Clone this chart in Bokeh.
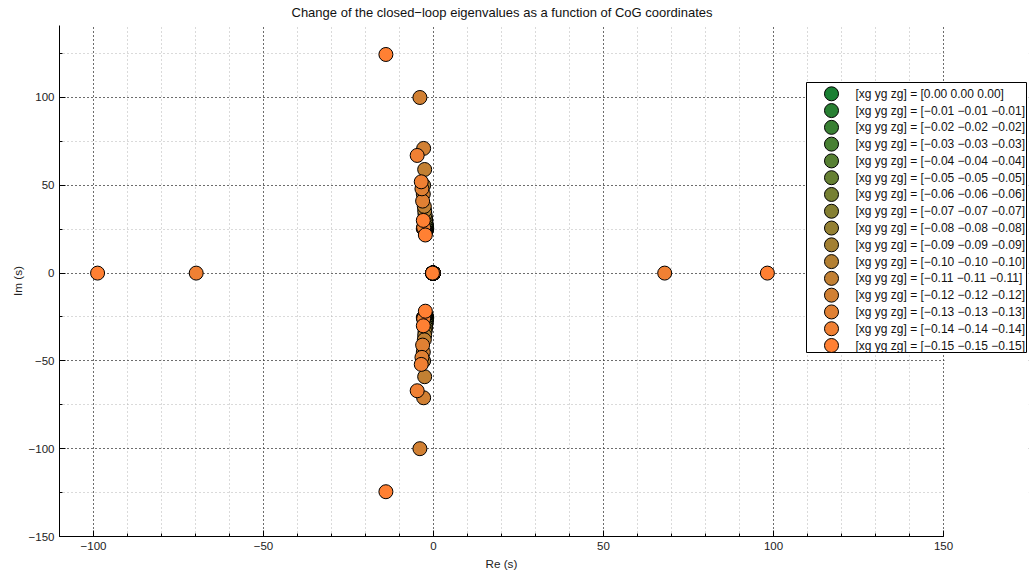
from bokeh.plotting import figure
from bokeh.models import Range1d, SingleIntervalTicker, CustomJSTickFormatter, Title
from bokeh.core.properties import value
from bokeh.embed import file_html
from bokeh.resources import INLINE

# CoG offsets (xg = yg = zg) of each configuration
offsets = [0.00, -0.01, -0.02, -0.03, -0.04, -0.05, -0.06, -0.07,
           -0.08, -0.09, -0.10, -0.11, -0.12, -0.13, -0.14, -0.15]

colors = ["#1a8033", "#298033", "#398033", "#488033", "#578033", "#668033",
          "#768033", "#858033", "#948033", "#a38033", "#b38033", "#c28033",
          "#d18033", "#e08033", "#f08033", "#ff8033"]

# complex eigenvalues (upper half plane; conjugates are mirrored)
cplx_re = [
    [-2.2, -2.0], [-2.2, -2.0], [-2.3, -2.1], [-2.3, -2.1],
    [-2.4, -2.2], [-2.4, -2.2], [-2.5, -2.3], [-2.5, -2.3],
    [-2.6, -2.4], [-2.6, -2.5], [-2.7, -2.6, -2.9], [-2.8, -2.7, -2.6],
    [-2.9, -3.0, -2.9, -4.0], [-3.0, -3.2, -3.4], [-2.9, -3.6, -4.8],
    [-2.4, -3.0, -14.0],
]
cplx_im = [
    [24.0, 25.0], [24.1, 25.6], [24.2, 26.3], [24.3, 27.0],
    [24.4, 27.8], [24.5, 28.7], [24.6, 29.7], [24.7, 30.8],
    [24.8, 32.0], [24.9, 33.5], [25.0, 35.5, 50.0], [25.0, 38.0, 59.0],
    [25.2, 45.0, 71.0, 100.0], [25.5, 41.0, 48.0], [26.0, 52.0, 67.0],
    [21.7, 30.0, 124.5],
]
# real eigenvalues
real_eigs = [
    [0.0, -0.3], [0.0, -0.3], [0.0, -0.3], [0.0, -0.3],
    [0.0, -0.3], [0.0, -0.3], [0.0, -0.3], [0.0, -0.3],
    [0.0, -0.3], [0.0, -0.3], [0.0, -0.3], [0.0, -0.3],
    [0.0, -0.3], [0.0, -0.3], [0.0, -0.3, -69.8, 68.0],
    [0.0, -0.3, -98.8, 98.2],
]

MINUS = "\u2212"


def fmt(v):
    return f"{v:.2f}".replace("-", MINUS)


labels = [f"[xg yg zg] = [{fmt(o)} {fmt(o)} {fmt(o)}]" for o in offsets]

# ---- layout (pixels) ----
W, H = 1030, 573
FL, FR, FT, FB = 59, 1028, 25, 536          # frame edges
AX_R = 943                                   # pixel where the drawn axes end
X0, X_AX_END = -110.0, 150.0
PX_PER_X = (AX_R - FL) / (X_AX_END - X0)
Y0, Y1 = -150.0, 141.0
x_end = X0 + (FR - FL) / PX_PER_X
py_per_y = (FB - FT) / (Y1 - Y0)


def dx(px):
    return X0 + (px - FL) / PX_PER_X


def dy(py):
    return Y1 - (py - FT) / py_per_y


p = figure(width=W, height=H,
           x_range=Range1d(X0, x_end), y_range=Range1d(Y0, Y1),
           output_backend="svg", toolbar_location=None,
           min_border_left=FL, min_border_right=W - FR,
           min_border_bottom=H - FB, min_border_top=FT)
p.outline_line_color = None
p.background_fill_color = "white"
p.border_fill_color = "white"

p.title.text = "Change of the closed" + MINUS + "loop eigenvalues as a function of CoG coordinates"
p.title.align = "left"
p.title.offset = 291 - FL
p.title.text_font = "Liberation Sans"
p.title.text_font_size = "13px"
p.title.text_font_style = "normal"
p.title.text_color = "#111111"
p.title.vertical_align = "top"
p.title.text_line_height = 1.38
p.title.standoff = 7

xt = SingleIntervalTicker(interval=50, num_minor_ticks=5)
yt = SingleIntervalTicker(interval=50, num_minor_ticks=2)
p.xaxis.ticker = xt
p.yaxis.ticker = yt
p.xgrid.ticker = xt
p.ygrid.ticker = yt
p.xaxis.bounds = (X0, X_AX_END)

tick_fmt = CustomJSTickFormatter(
    code="return tick < 0 ? '\u2212' + String(Math.abs(tick)) : String(tick);")
for ax in (p.xaxis[0], p.yaxis[0]):
    ax.formatter = tick_fmt
    ax.axis_line_color = "black"
    ax.axis_line_width = 1
    ax.major_tick_in = 6
    ax.major_tick_out = 0
    ax.minor_tick_in = 3
    ax.minor_tick_out = 0
    ax.major_tick_line_color = "black"
    ax.minor_tick_line_color = "black"
    ax.major_label_text_font = "Liberation Sans"
    ax.major_label_text_font_size = "11.5px"
    ax.major_label_text_color = "#222222"
    ax.axis_label_text_font = "Liberation Sans"
    ax.axis_label_text_font_size = "11.7px"
    ax.axis_label_text_font_style = "normal"
    ax.axis_label_text_color = "#222222"

p.yaxis.axis_label = "Im (s)"
p.xaxis.major_label_standoff = 5
p.yaxis.major_label_standoff = 5
p.yaxis.axis_label_standoff = 2

# x-axis label as a title below, so it is placed on the drawn axis' centre
xlab = Title(text="Re (s)", align="left", offset=485 - FL,
             vertical_align="bottom", standoff=4,
             text_font="Liberation Sans", text_font_size="11.7px",
             text_font_style="normal", text_color="#222222")
p.add_layout(xlab, "below")

p.grid.grid_line_color = "black"
p.grid.grid_line_dash = "1 3"
p.grid.grid_line_width = 1
p.grid.minor_grid_line_color = "#b5b5b5"
p.grid.minor_grid_line_dash = "1 3"
p.grid.minor_grid_line_width = 1

# white mask right of the axis end (the reference axes stop at 150)
p.quad(left=[X_AX_END + 0.3], right=[x_end + 5], bottom=[Y0 - 5], top=[Y1 + 5],
       fill_color="white", line_color=None)

for k in range(len(offsets)):
    xs = list(cplx_re[k]) + list(cplx_re[k]) + list(real_eigs[k])
    ys = list(cplx_im[k]) + [-v for v in cplx_im[k]] + [0.0] * len(real_eigs[k])
    p.scatter(xs, ys, size=14, fill_color=colors[k],
              line_color="black", line_width=1)

# ---- legend box, drawn manually so its markers match the plot markers ----
LB_L, LB_R, LB_T, LB_B = 806, 1026, 82, 352
ROW0, ROW_H = 93.3, 16.78
MARK_X, TEXT_X = 831, 855
p.quad(left=[dx(LB_L)], right=[dx(LB_R)], top=[dy(LB_T)], bottom=[dy(LB_B)],
       fill_color="white", line_color="black", line_width=1)
leg_y = [dy(ROW0 + i * ROW_H) for i in range(len(offsets))]
p.scatter([dx(MARK_X)] * len(offsets), leg_y, size=14, fill_color=colors,
          line_color="black", line_width=1)
p.text([dx(TEXT_X)] * len(offsets), leg_y, text=labels,
       text_font=value("Liberation Sans"), text_font_size="12px",
       text_baseline="middle", text_align="left", text_color="#111111")

open("out.html", "w").write(file_html(p, INLINE))
